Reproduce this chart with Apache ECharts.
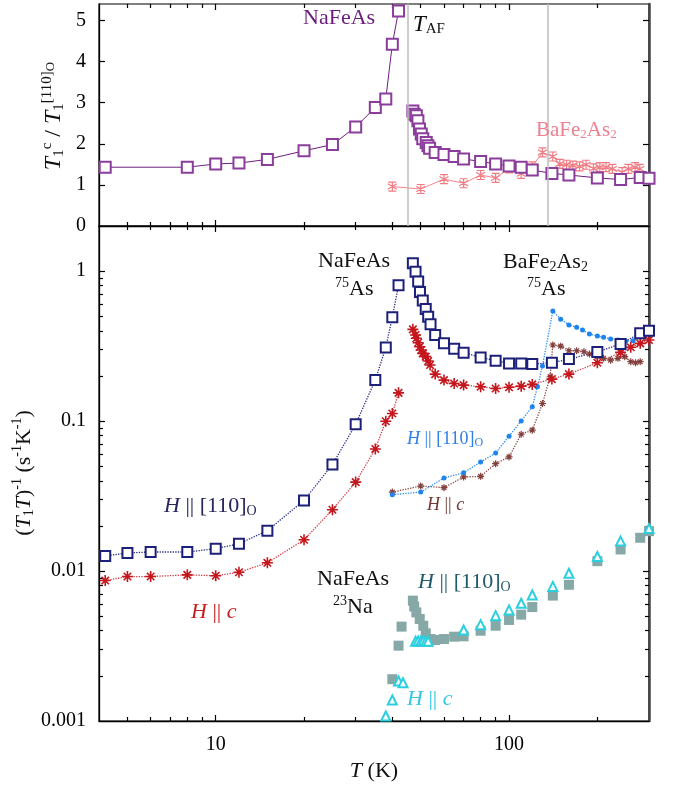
<!DOCTYPE html>
<html><head><meta charset="utf-8">
<script src="https://cdn.jsdelivr.net/npm/echarts@6/dist/echarts.min.js"></script>
<style>html,body{margin:0;padding:0;background:#fff}#c{width:678px;height:787px}</style>
</head><body><div id="c"></div>
<script>
// ---------------- DATA ----------------
// Top panel: T1^c / T1^[110]O ratio
const naRatioLowT = [4.2, 8, 10, 12, 15, 20, 25, 30, 35, 38, 40, 42];
const naRatioLowV = [1.43, 1.43, 1.51, 1.53, 1.62, 1.83, 1.98, 2.41, 2.88, 3.09, 4.42, 5.23];
const naRatioHighT = [47, 47.5, 48.3, 48.9, 49.5, 50.2, 50.8, 52.2, 52.9, 53.6, 56, 60, 65, 70, 80, 90, 100, 110, 120, 140, 160, 200, 240, 280, 300];
const naRatioHighV = [2.80, 2.72, 2.68, 2.56, 2.36, 2.24, 2.12, 2.03, 1.95, 1.89, 1.79, 1.74, 1.69, 1.63, 1.57, 1.51, 1.46, 1.43, 1.36, 1.28, 1.24, 1.17, 1.13, 1.18, 1.16];
const baRatioT = [40, 50, 60, 70, 80, 90, 100, 110, 120, 130, 141, 149, 157, 165, 174, 183, 194, 204, 214, 225, 243, 255, 269, 279];
const baRatioV = [0.96, 0.90, 1.14, 1.04, 1.24, 1.17, 1.40, 1.27, 1.45, 1.79, 1.69, 1.51, 1.49, 1.47, 1.45, 1.49, 1.40, 1.43, 1.43, 1.39, 1.31, 1.39, 1.43, 1.39];
const transitionT = [45, 136];

// Bottom panel: (T1 T)^-1
const naAs110LowT = [4.2, 5, 6, 8, 10, 12, 15, 20, 25, 30, 35, 38, 40, 42];
const naAs110LowV = [0.0126, 0.0132, 0.0134, 0.0134, 0.0141, 0.0152, 0.0186, 0.0296, 0.0513, 0.0953, 0.188, 0.310, 0.493, 0.806];
const naAs110HighT = [47, 48, 49, 49.7, 50.8, 52, 53, 54, 56, 60, 65, 70, 80, 90, 100, 110, 120, 140, 160, 200, 240, 280, 300];
const naAs110HighV = [1.13, 0.99, 0.852, 0.727, 0.636, 0.560, 0.497, 0.442, 0.375, 0.330, 0.304, 0.286, 0.266, 0.2525, 0.2426, 0.2426, 0.240, 0.245, 0.259, 0.289, 0.327, 0.385, 0.401];
const naAsCLowT = [4.2, 5, 6, 8, 10, 12, 15, 20, 25, 30, 35, 38, 40, 42];
const naAsCLowV = [0.00864, 0.00919, 0.00919, 0.00943, 0.0093, 0.00982, 0.01135, 0.01616, 0.02565, 0.0392, 0.0652, 0.0998, 0.1124, 0.1543];
const naAsCHighT = [47, 48, 48.3, 49, 49.6, 50.2, 50.8, 52, 53, 53.8, 56, 60, 65, 70, 80, 90, 100, 110, 120, 140, 160, 200, 240, 260, 280, 300];
const naAsCHighV = [0.409, 0.375, 0.357, 0.333, 0.313, 0.298, 0.283, 0.269, 0.2514, 0.2365, 0.2058, 0.1876, 0.178, 0.1738, 0.1693, 0.165, 0.168, 0.171, 0.1757, 0.1906, 0.2058, 0.245, 0.2874, 0.3105, 0.330, 0.3473];
const baAs110T = [40, 50, 60, 70, 80, 90, 100, 110, 120, 125, 130, 141, 150, 160, 170, 178, 188, 200, 210, 222, 235, 250, 265, 280];
const baAs110V = [0.0323, 0.0336, 0.0417, 0.0453, 0.0533, 0.0613, 0.0793, 0.1003, 0.1245, 0.1693, 0.233, 0.543, 0.478, 0.438, 0.422, 0.405, 0.381, 0.369, 0.362, 0.3526, 0.347, 0.342, 0.344, 0.362];
const baAsCT = [40, 50, 60, 70, 80, 90, 100, 110, 120, 130, 138, 141, 150, 160, 170, 180, 188, 200, 210, 222, 235, 248, 260, 270, 280];
const baAsCV = [0.0336, 0.0369, 0.036, 0.0424, 0.0428, 0.052, 0.0577, 0.0817, 0.087, 0.131, 0.1975, 0.3216, 0.316, 0.2945, 0.2945, 0.29, 0.28, 0.269, 0.262, 0.255, 0.262, 0.269, 0.249, 0.245, 0.249];
const naNa110T = [40, 42, 43, 47, 47.5, 48.3, 49.6, 51, 52, 54, 56, 60, 65, 70, 80, 90, 100, 110, 120, 141, 160, 200, 240, 280, 300];
const naNa110V = [0.0019, 0.00318, 0.00426, 0.00635, 0.0058, 0.0053, 0.00479, 0.00432, 0.00384, 0.00352, 0.00347, 0.00352, 0.00365, 0.00367, 0.0040, 0.00432, 0.00472, 0.00512, 0.00575, 0.00686, 0.0081, 0.01164, 0.01393, 0.01667, 0.01845];
const naNaCT = [38, 40, 42, 43.5, 48, 49, 50, 51, 52, 53, 70, 80, 90, 100, 110, 120, 141, 160, 200, 240, 300];
const naNaCV = [0.00108, 0.00138, 0.00185, 0.0018, 0.0034, 0.00342, 0.0034, 0.00343, 0.0034, 0.0034, 0.00404, 0.00439, 0.00504, 0.0055, 0.0061, 0.00693, 0.0079, 0.00967, 0.0125, 0.01584, 0.0192];

// Axis ticks / labels
const xRange = [4, 300];
const xMajorTicks = [10, 100];
const xTickLabels = ['10', '100'];
const xMinorTicks = [5, 6, 7, 8, 9, 20, 30, 40, 50, 60, 70, 80, 90, 200];
const topYRange = [0, 5.4];
const topYTicks = [1, 2, 3, 4, 5];
const topYLabels = ['0', '1', '2', '3', '4', '5'];
const botYRange = [0.001, 2];
const botYMajorValues = [0.001, 0.01, 0.1, 1];
const botYTickLabels = ['0.001', '0.01', '0.1', '1'];
const botYMinorTicks = [0.002,0.003,0.004,0.005,0.006,0.007,0.008,0.009,0.02,0.03,0.04,0.05,0.06,0.07,0.08,0.09,0.2,0.3,0.4,0.5,0.6,0.7,0.8,0.9];

// ---------------- CHART ----------------
const F = 'Liberation Serif';
const zip = (xs, ys) => xs.map((x, i) => [x, ys[i]]);
const ASTER = 'path://M0,5L10,5M5,0L5,10M1.6,1.6L8.4,8.4M8.4,1.6L1.6,8.4';
const XBAR = 'path://M1.5,0L8.5,0M1.5,10L8.5,10M5,0L5,10M1,2L9,8M9,2L1,8';
const near = (a, b) => Math.abs(Math.log10(a) - Math.log10(b)) < 1e-6;
const MAJ = 6, MIN = 4;

function tok(size, color, extra) { return Object.assign({fontFamily: F, fontSize: size, fill: color}, extra || {}); }
function richSet(size, color) {
  return {
    r: tok(size, color),
    i: tok(size, color, {fontStyle: 'italic'}),
    sub: tok(Math.round(size * 0.64), color, {padding: [Math.round(size * 0.45), 0, 0, 0]}),
    sup: tok(Math.round(size * 0.64), color, {padding: [0, 0, Math.round(size * 0.6), 0]}),
    so: tok(Math.round(size * 0.55), color, {padding: [0, 0, Math.round(size * 0.25), 0]})
  };
}
function txt(x, y, text, size, color, align) {
  return {type: 'text', x, y, z: 50, silent: true,
    style: {text, rich: richSet(size, color), fill: color, align: align || 'left', verticalAlign: 'top'}};
}

const noLine = {show: false, onZero: false};
const axisLineBlack = {show: true, onZero: false, lineStyle: {color: '#000', width: 1.3}};
const rightLine = {show: true, onZero: false, lineStyle: {color: '#444', width: 2.5}};
const tickStyle = (vals, len) => ({show: true, inside: true, length: len, customValues: vals, lineStyle: {color: '#000', width: 1.2}});

function mkX(gi, pos, vals, len, extra) {
  return Object.assign({type: 'log', gridIndex: gi, position: pos, min: xRange[0], max: xRange[1],
    axisLine: noLine, axisLabel: {show: false}, splitLine: {show: false}, axisTick: tickStyle(vals, len)}, extra || {});
}
function mkY(gi, pos, type, range, vals, len, extra) {
  return Object.assign({type, gridIndex: gi, position: pos, min: range[0], max: range[1],
    axisLine: noLine, axisLabel: {show: false}, splitLine: {show: false}, axisTick: tickStyle(vals, len)}, extra || {});
}

const option = {
  animation: false,
  backgroundColor: '#fff',
  grid: [
    {left: 99, right: 29, top: 4, height: 222, show: true, borderColor: '#000', borderWidth: 1.2},
    {left: 99, right: 29, top: 226, height: 495, show: true, borderColor: '#000', borderWidth: 1.2}
  ],
  xAxis: [
    mkX(0, 'bottom', xMajorTicks, MAJ, {axisLine: axisLineBlack}),
    mkX(1, 'bottom', xMajorTicks, MAJ, {axisLine: axisLineBlack,
      axisLabel: {show: true, interval: 0, margin: 14, fontFamily: F, fontSize: 20, color: '#000',
        formatter: v => { const k = xMajorTicks.findIndex(m => near(m, v)); return k >= 0 ? xTickLabels[k] : ''; }}}),
    mkX(0, 'bottom', xMinorTicks, MIN),
    mkX(0, 'top', xMajorTicks, MAJ),
    mkX(0, 'top', xMinorTicks, MIN),
    mkX(1, 'bottom', xMinorTicks, MIN),
    mkX(1, 'top', xMajorTicks, MAJ),
    mkX(1, 'top', xMinorTicks, MIN)
  ],
  yAxis: [
    mkY(0, 'left', 'value', topYRange, topYTicks, MAJ, {interval: 1, axisLine: axisLineBlack,
      axisLabel: {show: true, margin: 13, fontFamily: F, fontSize: 20, color: '#000',
        formatter: v => (Math.abs(v - Math.round(v)) < 1e-6 && topYLabels[Math.round(v)] !== undefined) ? topYLabels[Math.round(v)] : ''}}),
    mkY(1, 'left', 'log', botYRange, botYMajorValues.slice(1), MAJ, {axisLine: axisLineBlack,
      axisLabel: {show: true, interval: 0, margin: 13, fontFamily: F, fontSize: 20, color: '#000',
        formatter: v => { const k = botYMajorValues.findIndex(m => near(m, v)); return k >= 0 ? botYTickLabels[k] : ''; }}}),
    mkY(0, 'right', 'value', topYRange, topYTicks, MAJ, {interval: 1, axisLine: rightLine}),
    mkY(1, 'right', 'log', botYRange, botYMajorValues.slice(1), MAJ, {axisLine: rightLine}),
    mkY(1, 'left', 'log', botYRange, botYMinorTicks, MIN),
    mkY(1, 'right', 'log', botYRange, botYMinorTicks, MIN)
  ],
  series: [
    {type: 'line', xAxisIndex: 0, yAxisIndex: 0, data: zip(baRatioT, baRatioV), symbol: XBAR, symbolSize: 9,
      lineStyle: {color: '#f3858c', width: 1}, itemStyle: {color: '#f27a82', borderColor: '#f27a82', borderWidth: 1.2}, z: 3},
    {type: 'line', xAxisIndex: 0, yAxisIndex: 0, data: zip(naRatioLowT, naRatioLowV), symbol: 'emptyRect', symbolSize: 11,
      lineStyle: {color: '#6e1f7e', width: 1}, itemStyle: {color: '#8a3d9a', borderWidth: 1.3}, z: 4,
      markLine: {silent: true, symbol: 'none', label: {show: false}, lineStyle: {color: '#bcbcbc', width: 1.5, type: 'solid'},
        data: transitionT.map(t => ({xAxis: t}))}},
    {type: 'line', xAxisIndex: 0, yAxisIndex: 0, data: zip(naRatioHighT, naRatioHighV), symbol: 'emptyRect', symbolSize: 11,
      lineStyle: {color: '#6e1f7e', width: 1}, itemStyle: {color: '#8a3d9a', borderWidth: 1.3}, z: 4},
    {type: 'line', xAxisIndex: 1, yAxisIndex: 1, data: zip(baAsCT, baAsCV), symbol: ASTER, symbolSize: 7,
      lineStyle: {color: '#8d4a45', width: 1.3, type: 'dotted'}, itemStyle: {color: '#84403c', borderColor: '#84403c', borderWidth: 1.2}},
    {type: 'line', xAxisIndex: 1, yAxisIndex: 1, data: zip(baAs110T, baAs110V), symbol: 'circle', symbolSize: 5,
      lineStyle: {color: '#2c8ef5', width: 1.3, type: 'dotted'}, itemStyle: {color: '#1f84f0', borderWidth: 0}},
    {type: 'line', xAxisIndex: 1, yAxisIndex: 1, data: zip(naAsCLowT, naAsCLowV), symbol: ASTER, symbolSize: 11,
      lineStyle: {color: '#d23a40', width: 1.3, type: 'dotted'}, itemStyle: {color: '#c4161c', borderColor: '#c4161c', borderWidth: 1.6}},
    {type: 'line', xAxisIndex: 1, yAxisIndex: 1, data: zip(naAsCHighT, naAsCHighV), symbol: ASTER, symbolSize: 11,
      lineStyle: {color: '#d23a40', width: 1.3, type: 'dotted'}, itemStyle: {color: '#c4161c', borderColor: '#c4161c', borderWidth: 1.6}},
    {type: 'line', xAxisIndex: 1, yAxisIndex: 1, data: zip(naAs110LowT, naAs110LowV), symbol: 'emptyRect', symbolSize: 10,
      lineStyle: {color: '#2a2d86', width: 1.3, type: 'dotted'}, itemStyle: {color: '#1c2079', borderWidth: 1.6}},
    {type: 'line', xAxisIndex: 1, yAxisIndex: 1, data: zip(naAs110HighT, naAs110HighV), symbol: 'emptyRect', symbolSize: 10,
      lineStyle: {color: '#2a2d86', width: 1.3, type: 'dotted'}, itemStyle: {color: '#1c2079', borderWidth: 1.6}},
    {type: 'scatter', xAxisIndex: 1, yAxisIndex: 1, data: zip(naNa110T, naNa110V), symbol: 'rect', symbolSize: 10,
      itemStyle: {color: '#86a8a6', opacity: 1}},
    {type: 'scatter', xAxisIndex: 1, yAxisIndex: 1, data: zip(naNaCT, naNaCV), symbol: 'emptyTriangle', symbolSize: 9,
      itemStyle: {color: '#2ccfe0', borderWidth: 1.2, opacity: 1}}
  ],
  graphic: [
    txt(303, 7, '{r|NaFeAs}', 22, '#6b1d7b'),
    txt(413, 12, '{i|T}{sub|AF}', 23, '#111'),
    txt(536, 119, '{r|BaFe}{sub|2}{r|As}{sub|2}', 21, '#f07f8f'),
    txt(318, 250, '{r|NaFeAs}', 22, '#111'),
    txt(335, 276, '{sup|75}{r|As}', 22, '#111'),
    txt(503, 250, '{r|BaFe}{sub|2}{r|As}{sub|2}', 22, '#111'),
    txt(527, 276, '{sup|75}{r|As}', 22, '#111'),
    txt(164, 494, '{i|H}{r| || [110]}{sub|O}', 22, '#27245e'),
    txt(191, 601, '{i|H}{r| || }{i|c}', 22, '#c41e1e'),
    txt(407, 429, '{i|H}{r| || [110]}{sub|O}', 18, '#2b7fe8'),
    txt(427, 496, '{i|H}{r| || }{i|c}', 18, '#6b3a33'),
    txt(317, 568, '{r|NaFeAs}', 22, '#111'),
    txt(333, 594, '{sup|23}{r|Na}', 22, '#111'),
    txt(418, 570, '{i|H}{r| || [110]}{sub|O}', 22, '#1f5a6a'),
    txt(407, 688, '{i|H}{r| || }{i|c}', 22, '#35c6e6'),
    txt(374, 760, '{i|T}{r| (K)}', 22, '#111', 'center'),
    {type: 'text', x: 54, y: 116, rotation: Math.PI / 2, z: 50, silent: true,
      style: {text: '{i|T}{sub|1}{sup|c}{r| / }{i|T}{sub|1}{sup|[110]}{so|O}', rich: richSet(24, '#111'), align: 'center', verticalAlign: 'middle'}},
    {type: 'text', x: 24, y: 473, rotation: Math.PI / 2, z: 50, silent: true,
      style: {text: '{r|(}{i|T}{sub|1}{i|T}{r|)}{sup|-1}{r| (s}{sup|-1}{r|K}{sup|-1}{r|)}', rich: richSet(22, '#111'), align: 'center', verticalAlign: 'middle'}}
  ]
};

const chart = echarts.init(document.getElementById('c'), null, {renderer: 'canvas'});
chart.setOption(option);
</script></body></html>
